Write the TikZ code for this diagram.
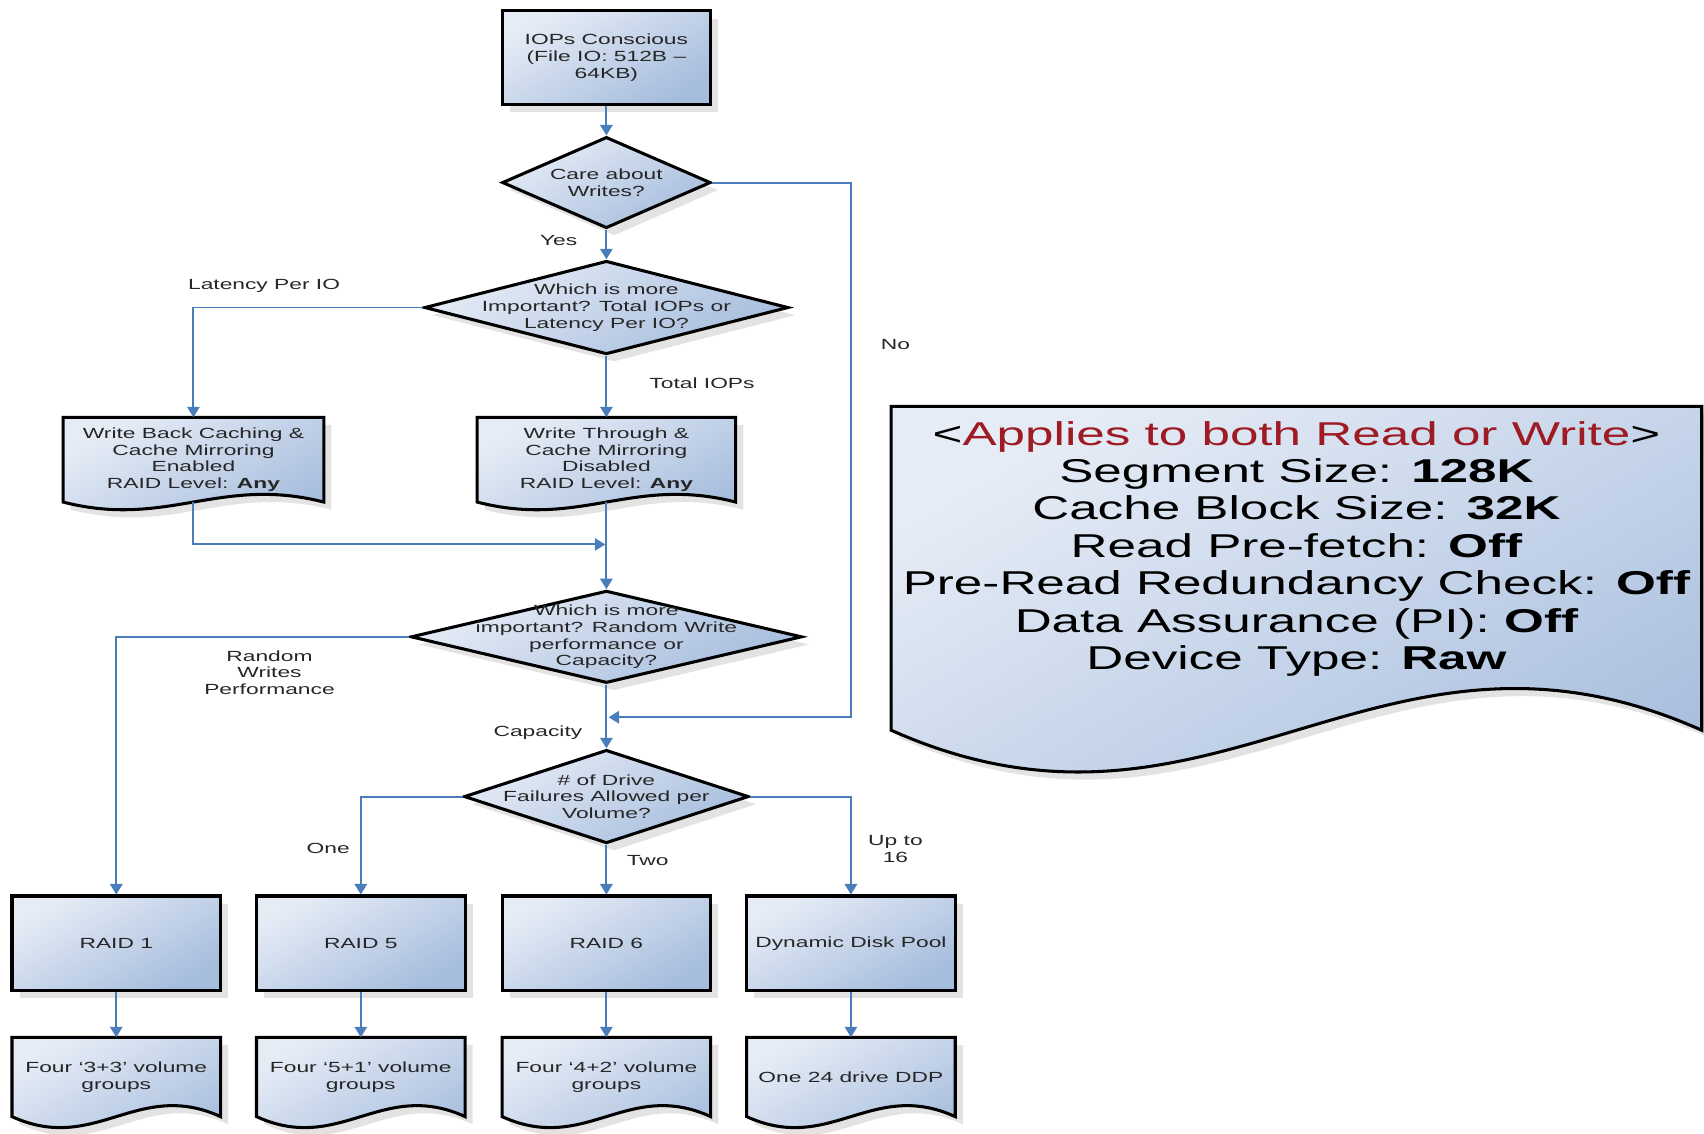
\documentclass[tikz,border=0pt]{standalone}
\usepackage{fontspec}
\setmainfont{Liberation Sans}[FakeStretch=1.55]
\usepackage{xcolor}
\usetikzlibrary{arrows.meta,shapes.geometric,shadows,calc,backgrounds}

\definecolor{flowblue}{RGB}{74,126,187}
\definecolor{boxtop}{RGB}{230,236,246}
\definecolor{boxbot}{RGB}{166,189,221}
\definecolor{darkred}{RGB}{158,27,36}

\tikzset{
  shade/.style={top color=boxtop, bottom color=boxbot, shading angle=30,
    drop shadow={shadow xshift=4pt, shadow yshift=-4pt, fill=black!22}},
  box/.style={draw=black, line width=1.6pt, shade, align=center, inner sep=2pt},
  decision/.style={diamond, draw=black, line width=1.6pt, shade, inner sep=0pt},
  doc/.style={draw=none, align=center, inner sep=0pt, outer sep=0pt},
  docline/.style={draw=black, line width=1.6pt, shade},
  flow/.style={draw=flowblue, line width=1pt, -{Triangle[length=5.5pt,width=6.5pt]}}
}

\newcommand{\docshape}[3]{%
  \begin{pgfonlayer}{background}
  \draw[docline] (#1.north west) -- (#1.north east) -- ($(#1.south east)+(0,#2)$)
    .. controls ($(#1.south east)!0.4!(#1.south west)+(0,#2-3.5*#3)$) and ($(#1.south east)!0.6!(#1.south west)+(0,#2+3.5*#3)$)
    .. ($(#1.south west)+(0,#2)$) -- cycle;
  \end{pgfonlayer}}

\begin{document}
\begin{tikzpicture}[x=0.02cm,y=-0.02cm,font=\fontsize{7.7}{8.8}\selectfont,text=black!85]
\useasboundingbox (0,0) rectangle (1568,1043);

	\node[box, minimum width=3.84cm, minimum height=1.72cm] (1) at (558,53) {IOPs Conscious\\(File IO: 512B –\\64KB)};
	\node[decision, minimum width=3.84cm, minimum height=1.68cm, label={[align=center]center:Care about\\Writes?}] (2) at (558,168) {};
	\node[decision, minimum width=6.7cm, minimum height=1.72cm, label={[align=center]center:Which is more\\Important? Total IOPs or\\Latency Per IO?}] (3) at (558,283) {};

	\node[doc, minimum width=4.8cm, minimum height=1.56cm] (4) at (178,423) {Write Back Caching \&\\Cache Mirroring\\Enabled\\RAID Level: \textbf{Any}};
	\node[doc, minimum width=4.76cm, minimum height=1.56cm] (5) at (558,423) {Write Through \&\\Cache Mirroring\\Disabled\\RAID Level: \textbf{Any}};

	\node[decision, minimum width=7.2cm, minimum height=1.7cm, label={[align=center]center:Which is more\\important? Random Write\\performance or\\Capacity?}] (6) at (558,586) {};
	\node[decision, minimum width=5.24cm, minimum height=1.72cm, label={[align=center]center:\# of Drive\\Failures Allowed per\\Volume?}] (7) at (558,733) {};

	\node[box, minimum width=3.84cm, minimum height=1.74cm] (8) at (107,868) {RAID 1};
	\node[box, minimum width=3.84cm, minimum height=1.74cm] (9) at (332,868) {RAID 5};
	\node[box, minimum width=3.84cm, minimum height=1.74cm] (10) at (558,868) {RAID 6};
	\node[box, minimum width=3.84cm, minimum height=1.74cm] (11) at (783,868) {Dynamic Disk Pool};

	\node[doc, minimum width=3.84cm, minimum height=1.46cm] (12) at (107,991) {Four ‘3+3’ volume\\groups};
	\node[doc, minimum width=3.84cm, minimum height=1.46cm] (13) at (332,991) {Four ‘5+1’ volume\\groups};
	\node[doc, minimum width=3.84cm, minimum height=1.46cm] (14) at (558,991) {Four ‘4+2’ volume\\groups};
	\node[doc, minimum width=3.84cm, minimum height=1.46cm] (15) at (783,991) {One 24 drive DDP};

	\node[doc, minimum width=14.92cm, minimum height=5.24cm, text=black, font=\fontsize{17.3}{19.6}\selectfont] (16) at (1193,505)
	  {\textless\textcolor{darkred}{Applies to both Read or Write}\textgreater\\Segment Size: \textbf{128K}\\Cache Block Size: \textbf{32K}\\Read Pre-fetch: \textbf{Off}\\Pre-Read Redundancy Check: \textbf{Off}\\Data Assurance (PI): \textbf{Off}\\Device Type: \textbf{Raw}};

	\docshape{4}{0}{7} \docshape{5}{0}{7} \docshape{16}{36}{38}
	\foreach \n in {12,...,15} {\docshape{\n}{0}{10}}

	\node (yes) at (514,221) {Yes};
	\node (lat) at (243,263) {Latency Per IO};
	\node (tot) at (646,353) {Total IOPs};
	\node (no) at (824,317) {No};
	\node[align=center] (rwp) at (248,619) {Random\\Writes\\Performance};
	\node (cap) at (495,674) {Capacity};
	\node (one) at (302,781) {One};
	\node (two) at (596,792) {Two};
	\node[align=center] (upto) at (824,781) {Up to\\16};

	\coordinate (nc) at (783,660);
	\coordinate (nm) at (560,660);
	\coordinate (jn) at (557,501);

\draw[flow] (1.south) -- (2.north); \draw[flow] (2.south) -- (3.north); \draw[flow] (2.east) -| (nc) -- (nm);
\draw[flow] (3.west) -| (4.north); \draw[flow] (3.south) -- (5.north); \draw[flow] (4.south) |- (jn); \draw[flow] (5.south) -- (6.north);
\draw[flow] (6.west) -| (8.north); \draw[flow] (6.south) -- (7.north); \draw[flow] (7.west) -| (9.north); \draw[flow] (7.south) -- (10.north); \draw[flow] (7.east) -| (11.north);
\foreach \a/\b in {8/12,9/13,10/14,11/15} \draw[flow] (\a.south) -- (\b.north);

\end{tikzpicture}
\end{document}
